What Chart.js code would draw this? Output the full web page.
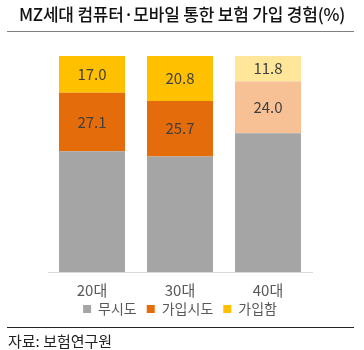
<!DOCTYPE html>
<html>
<head>
<meta charset="utf-8">
<script src="https://cdn.jsdelivr.net/npm/chart.js@4"></script>
<style>
  body { margin: 0; background: #fff; font-family: "Noto Sans CJK KR", sans-serif; }
  #wrap { position: relative; width: 364px; height: 350px; overflow: hidden; }
  #title { position: absolute; left: 0; top: 1px; width: 364px; text-align: center; font-size: 17px; font-weight: 500; color: #111; letter-spacing: -0.2px; }
  #topLine { position: absolute; left: 7px; width: 347px; top: 31px; height: 1px; background: #7f7f7f; }
  #botLine { position: absolute; left: 7px; width: 347px; top: 327px; height: 1px; background: #222; }
  #source { position: absolute; left: 8px; top: 330px; font-size: 15px; color: #222; }
  canvas { position: absolute; left: 0; top: 0; }
</style>
</head>
<body>
<div id="wrap">
  <canvas id="chart" width="364" height="350"></canvas>
  <div id="title">MZ세대 컴퓨터·모바일 통한 보험 가입 경험(%)</div>
  <div id="topLine"></div>
  <div id="botLine"></div>
  <div id="source">자료: 보험연구원</div>
</div>
<script>
// Data
const ageGroups = ['20대', '30대', '40대'];
const neverTried = [55.9, 53.5, 64.2];
const triedJoining = [27.1, 25.7, 24.0];
const joined = [17.0, 20.8, 11.8];

// Colors (40대 is shown in lighter shades)
const grayColors = ['#a5a5a5', '#a5a5a5', '#a5a5a5'];
const orangeColors = ['#e46c0a', '#e46c0a', '#f8c095'];
const yellowColors = ['#ffc000', '#ffc000', '#ffe699'];

// Draws value labels inside the orange/yellow segments
const segmentLabels = {
  id: 'segmentLabels',
  afterDatasetsDraw(chart) {
    const ctx = chart.ctx;
    ctx.save();
    ctx.font = '15px "Noto Sans CJK KR", sans-serif';
    ctx.fillStyle = '#404040';
    ctx.textAlign = 'center';
    ctx.textBaseline = 'middle';
    chart.data.datasets.forEach((ds, i) => {
      if (!ds.showValues) return;
      chart.getDatasetMeta(i).data.forEach((bar, j) => {
        const y = (bar.y + bar.base) / 2;
        ctx.fillText(ds.data[j].toFixed(1), bar.x, y);
      });
    });
    ctx.restore();
  }
};

// Pull the legend up a little so it sits closer to the tick labels
const legendNudge = {
  id: 'legendNudge',
  afterLayout(chart) {
    chart.legend.top -= 10;
    chart.legend.bottom -= 10;
  }
};

new Chart(document.getElementById('chart'), {
  type: 'bar',
  data: {
    labels: ageGroups,
    datasets: [
      { label: '무시도', data: neverTried, backgroundColor: grayColors, showValues: false },
      { label: '가입시도', data: triedJoining, backgroundColor: orangeColors, showValues: true },
      { label: '가입함', data: joined, backgroundColor: yellowColors, showValues: true }
    ]
  },
  options: {
    responsive: false,
    animation: false,
    layout: { padding: { left: 48, right: 52, top: 56, bottom: 14 } },
    datasets: { bar: { categoryPercentage: 0.75, barPercentage: 1 } },
    scales: {
      x: {
        stacked: true,
        grid: { display: false },
        border: { color: '#d9d9d9' },
        ticks: { color: '#595959', font: { size: 15, family: '"Noto Sans CJK KR", sans-serif' }, padding: 1 },
        afterFit(scale) { scale.height = 30; }
      },
      y: { stacked: true, display: false, min: 0, max: 100 }
    },
    plugins: {
      tooltip: { enabled: false },
      legend: {
        position: 'bottom',
        labels: {
          boxWidth: 8, boxHeight: 8, padding: 10,
          color: '#595959',
          font: { size: 14, family: '"Noto Sans CJK KR", sans-serif' },
          generateLabels(chart) {
            return chart.data.datasets.map((ds, i) => ({
              text: ds.label,
              fillStyle: ds.backgroundColor[0],
              strokeStyle: ds.backgroundColor[0],
              lineWidth: 0,
              datasetIndex: i,
              fontColor: '#595959'
            }));
          }
        }
      }
    }
  },
  plugins: [segmentLabels, legendNudge]
});
</script>
</body>
</html>
